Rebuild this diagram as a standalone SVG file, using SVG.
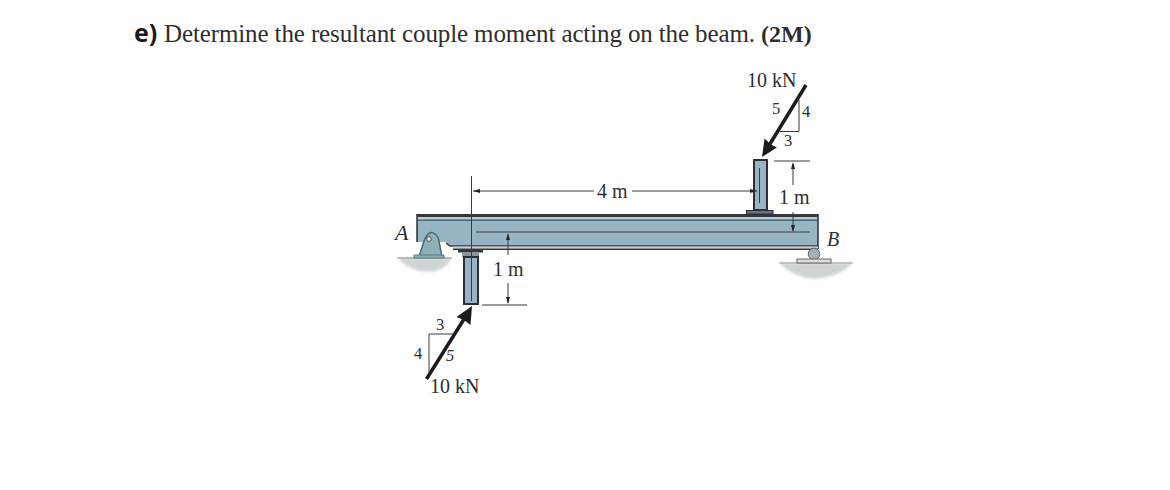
<svg xmlns="http://www.w3.org/2000/svg" width="1170" height="490" viewBox="0 0 1170 490">
<style>
.t{font-family:"Liberation Serif",serif;fill:#2e2e2e}
.n{font-size:20px}
.d{font-size:16.500px}
.s{fill:#98b3c3;stroke:#2b2f33;stroke-width:2}
.l{stroke:#3a3a3a;stroke-width:1;fill:none}
.g{fill:#cfd3d3}
.f{stroke:#1c1c1c;stroke-width:3.500;fill:none}
.h{fill:#1c1c1c}
</style>
<defs>
<filter id="b" x="-10%" y="-30%" width="120%" height="160%"><feGaussianBlur stdDeviation="1.500"/></filter>
</defs>
<rect width="1170" height="490" fill="#fff"/>
<text x="134" y="42" font-family="Open Sans,Noto Sans,sans-serif" font-weight="700" font-size="25" fill="#1a1a1a">e)</text>
<text class="t" x="164" y="42" font-size="25" textLength="591" fill="#222">Determine the resultant couple moment acting on the beam.</text>
<text class="t" x="761" y="42" font-size="24" font-weight="700">(2M)</text>
<g id="ground-a"><path d="M398 258H451Q448 269 430 272Q408 271 398 258Z" class="g" filter="url(#b)"/><path d="M397 258H452" stroke="#888" stroke-width="1"/></g>
<g id="ground-b"><path d="M780 263H852Q842 276 815 279Q790 276 780 263Z" class="g" filter="url(#b)"/><path d="M779 263H853" stroke="#999" stroke-width="1"/></g>
<g id="beam">
<path d="M417 215H818V246H449L446 242H417Z" fill="#98b3c3"/>
<rect x="417" y="214" width="401" height="3" fill="#33383c"/>
<rect x="417" y="217" width="401" height="2.500" fill="#bfc8cc"/>
<rect x="417" y="219.500" width="401" height="1.500" fill="#4b6a7e"/>
<path d="M417 214V242M818 214V249" stroke="#2c3033" stroke-width="1.500" fill="none"/>
<path d="M446 243L450 246H818" stroke="#33383c" stroke-width="1.500" fill="none"/>
<rect x="453" y="246.500" width="365" height="2" fill="#c5cdd0"/>
<rect x="453" y="248.500" width="365" height="1.500" fill="#33383c"/>
<path d="M476 232H810" stroke="#3a4348" stroke-width="1"/>
</g>
<g id="support-a">
<path d="M419 257L424 241Q429 229 435 234Q438 236 439 241L442 257Z" fill="#8fb0b4" stroke="#3f7078" stroke-width="1.500"/>
<rect x="414" y="255" width="30" height="3" fill="#8fb0b4" stroke="#3f7078" stroke-width=".8"/>
<circle cx="429" cy="239" r="2.300" fill="#e5e5e5" stroke="#555"/>
</g>
<g id="support-b">
<circle cx="814" cy="254" r="5.800" fill="#a2b0b5" stroke="#666"/>
<rect x="797" y="259" width="34" height="4" fill="#d8dcdc" stroke="#666"/>
</g>
<g id="column-bottom">
<rect x="458" y="250" width="25" height="2.500" fill="#33383c"/>
<rect x="462" y="252" width="17" height="5" fill="#8d9397"/>
<rect x="464" y="257" width="14" height="47" class="s"/>
</g>
<g id="column-top">
<rect x="754" y="160" width="13" height="50" class="s"/>
<rect x="746.500" y="210.500" width="26.500" height="3.500" fill="#5e7686" stroke="#2b2f33"/>
</g>
<g id="connectors">
<path class="l" d="M471.500 176V301"/>
<path d="M473 191H594" class="l"/>
<path d="M473 191L480 189V193Z" fill="#222"/>
<path d="M632 191H757" class="l"/>
<path d="M757 191L750 189V193Z" fill="#222"/>
<path class="l" d="M759.500 168V203M482 305H527"/>
<path class="l" d="M508 235V255M508 283V303"/>
<path d="M508 233L506 240H510ZM508 304L506 297H510Z" fill="#222"/>
<path class="l" d="M774 161H810M793 164V185M793 212V231"/>
<path d="M793 162L791 169H795ZM793 232L791 225H795Z" fill="#222"/>
<path class="f" d="M806 85L769 145.500"/>
<path class="h" d="M762 157L764.500 138.500L771 144.500L777 147.500Z"/>
<path class="l" d="M799 100V131.500H780"/>
<path class="f" d="M426.500 379L465 317.500"/>
<path class="h" d="M472 306L470.500 325L464 320L456.500 317Z"/>
<path class="l" d="M429 372V334H453"/>
</g>
<g id="labels">
<text class="t n" x="747" y="87">10 kN</text>
<text class="t d" x="772" y="114">5</text>
<text class="t d" x="802" y="117">4</text>
<text class="t d" x="784" y="146">3</text>
<text class="t n" x="597" y="198">4 m</text>
<text class="t n" x="779" y="204">1 m</text>
<text class="t n" x="493" y="276">1 m</text>
<text class="t" x="395" y="240" font-size="22" font-style="italic">A</text>
<text class="t" x="827" y="246" font-size="20" font-style="italic">B</text>
<text class="t d" x="436" y="330">3</text>
<text class="t d" x="414" y="359">4</text>
<text class="t d" x="446" y="361" font-style="italic">5</text>
<text class="t n" x="430" y="393">10 kN</text>
</g>
</svg>
